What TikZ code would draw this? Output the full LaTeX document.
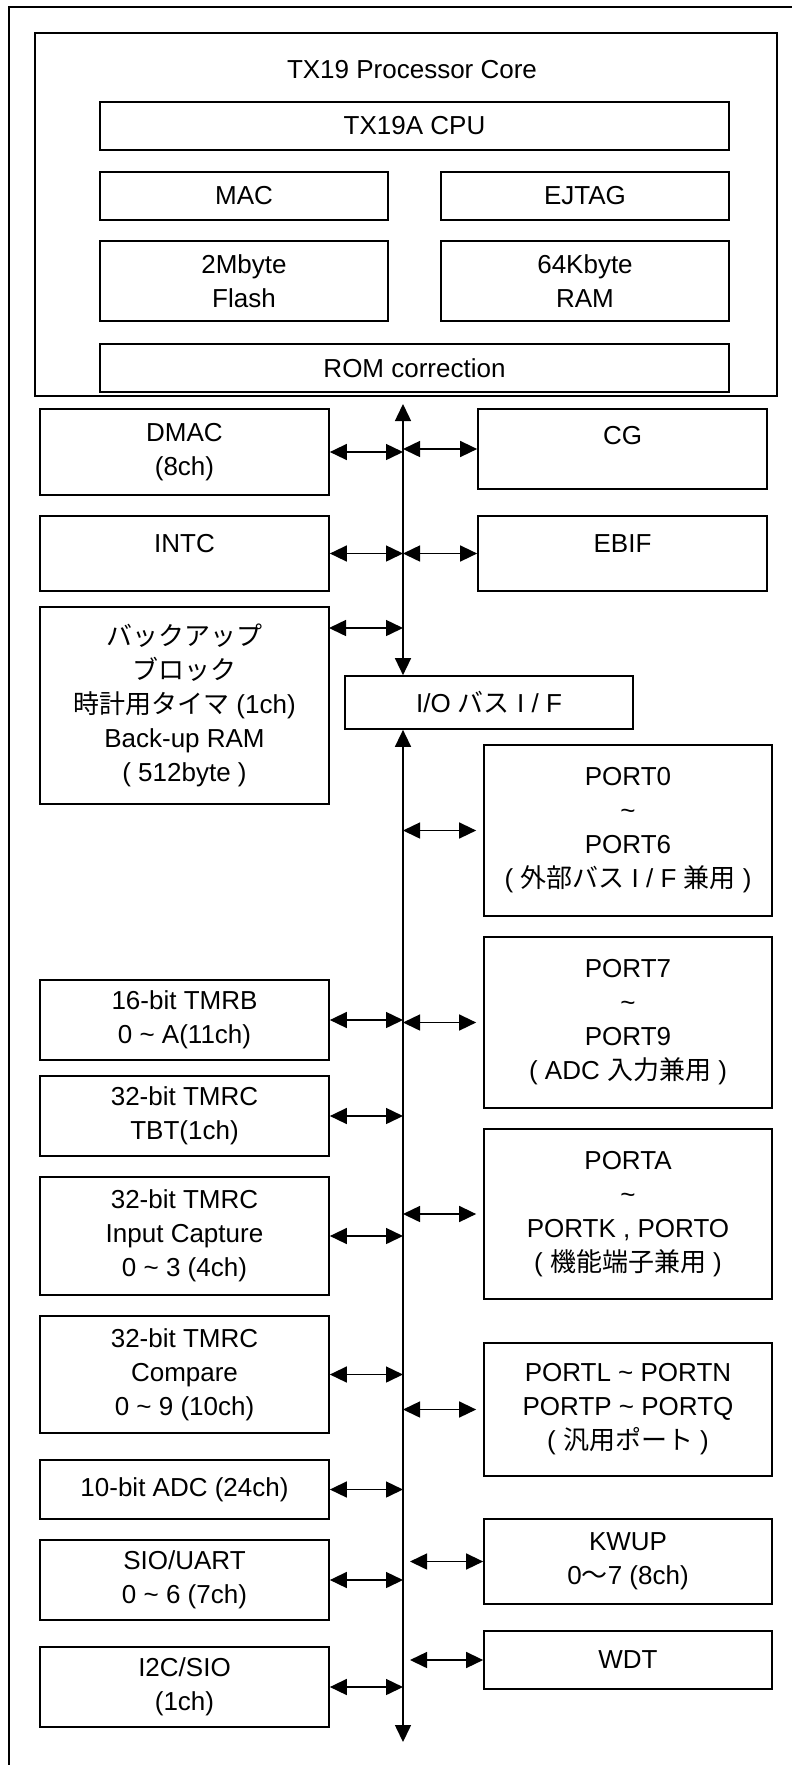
\documentclass[tikz,border=0pt]{standalone}
\usepackage{fontspec}
\setmainfont{Liberation Sans}
\newfontfamily\jp{Noto Sans CJK JP}
\usetikzlibrary{arrows.meta,calc}

\tikzset{
  blk/.style={draw, line width=1.7pt, inner sep=0pt, align=center, minimum width=289pt},
  raised/.style={text height=19pt, text depth=#1},
  link/.style={line width=1.5pt, {Triangle[length=17pt,width=16pt]}-{Triangle[length=17pt,width=16pt]}},
}

\begin{document}
\begin{tikzpicture}[x=1pt, y=-1pt, font=\fontsize{26}{34}\selectfont]
		\useasboundingbox (0,0) rectangle (792,1765);
		\draw[line width=1.7pt] (9,1765) -- (9,7) -- (792,7);
		
		% processor core
		\node[blk, minimum width=742pt, minimum height=363pt] (core) at (406,214.5) {};
		\node (title) at (412,70) {TX19 Processor Core};
		\node[blk, minimum width=629pt, minimum height=48pt] (cpu) at (414.5,126) {TX19A CPU};
		\node[blk, minimum width=288pt, minimum height=48pt] (mac) at (244,196) {MAC};
		\node[blk, minimum width=288pt, minimum height=48pt] (ejtag) at (585,196) {EJTAG};
		\node[blk, minimum width=288pt, minimum height=80pt] (flash) at (244,281) {2Mbyte\\Flash};
		\node[blk, minimum width=288pt, minimum height=80pt] (ram) at (585,281) {64Kbyte\\RAM};
		\node[blk, minimum width=629pt, minimum height=48pt] (romc) at (414.5,368) {ROM correction};
		
		% bus
		\coordinate (bus) at (403,404);
		\coordinate (busend) at (403,1742);
		\node[blk, minimum width=288pt, minimum height=53pt] (io) at (489,702.5) {I/O {\jp バス} I / F};
		\draw[link] (bus) -- (bus |- io.north);
		\draw[link] (bus |- io.south) -- (busend);
		
		% left column
		\node[blk, minimum height=86pt] (dmac) at (184.5,452) {DMAC\\(8ch)};
		\node[blk, minimum height=75pt, raised=22pt] (intc) at (184.5,553.5) {INTC};
		\node[blk, minimum height=197pt] (bkup) at (184.5,705.5) {{\jp バックアップ}\\{\jp ブロック}\\{\jp 時計用タイマ} (1ch)\\Back-up RAM\\( 512byte )};
		\node[blk, minimum height=80pt] (tmrb) at (184.5,1020) {16-bit TMRB\\0 \textasciitilde{} A(11ch)};
		\node[blk, minimum height=80pt] (tbt) at (184.5,1116) {32-bit TMRC\\TBT(1ch)};
		\node[blk, minimum height=118pt] (icap) at (184.5,1236) {32-bit TMRC\\Input Capture\\0 \textasciitilde{} 3 (4ch)};
		\node[blk, minimum height=117pt] (cmp) at (184.5,1374.5) {32-bit TMRC\\Compare\\0 \textasciitilde{} 9 (10ch)};
		\node[blk, minimum height=59pt] (adc) at (184.5,1489.5) {10-bit ADC (24ch)};
		\node[blk, minimum height=80pt] (sio) at (184.5,1580) {SIO/UART\\0 \textasciitilde{} 6 (7ch)};
		\node[blk, minimum height=80pt] (i2c) at (184.5,1687) {I2C/SIO\\(1ch)};
		
		\coordinate (bkarr) at (329,628);
		\draw[link] (dmac.east) -- (dmac.east -| bus);
		\draw[link] (intc.east) -- (intc.east -| bus);
		\draw[link] (bkarr) -- (bkarr -| bus);
		\draw[link] (tmrb.east) -- (tmrb.east -| bus);
		\draw[link] (tbt.east) -- (tbt.east -| bus);
		\draw[link] (icap.east) -- (icap.east -| bus);
		\draw[link] (cmp.east) -- (cmp.east -| bus);
		\draw[link] (adc.east) -- (adc.east -| bus);
		\draw[link] (sio.east) -- (sio.east -| bus);
		\draw[link] (i2c.east) -- (i2c.east -| bus);
		
		% right column
		\node[blk, minimum height=80pt, raised=28pt] (cg) at (622.5,449) {CG};
		\node[blk, minimum height=75pt, raised=22pt] (ebif) at (622.5,553.5) {EBIF};
		\node[blk, minimum width=288pt, minimum height=171pt] (portz) at (628,830.5) {PORT0\\\textasciitilde\\PORT6\\( {\jp 外部バス} I / F {\jp 兼用} )};
		\node[blk, minimum width=288pt, minimum height=171pt] (portsv) at (628,1022.5) {PORT7\\\textasciitilde\\PORT9\\( ADC {\jp 入力兼用} )};
		\node[blk, minimum width=288pt, minimum height=170pt] (porta) at (628,1214) {PORTA\\\textasciitilde\\PORTK , PORTO\\( {\jp 機能端子兼用} )};
		\node[blk, minimum width=288pt, minimum height=133pt] (portl) at (628,1409.5) {PORTL \textasciitilde{} PORTN\\PORTP \textasciitilde{} PORTQ\\( {\jp 汎用ポート} )};
		\node[blk, minimum width=288pt, minimum height=85pt] (kwup) at (628,1561.5) {KWUP\\0{\jp 〜}7 (8ch)};
		\node[blk, minimum width=288pt, minimum height=58pt] (wdt) at (628,1660) {WDT};
		
		\draw[link] (cg.west -| bus) -- (cg.west);
		\draw[link] (ebif.west -| bus) -- (ebif.west);
		\draw[link, shorten >=7pt] (portz.west -| bus) -- (portz.west);
		\draw[link, shorten >=7pt] (portsv.west -| bus) -- (portsv.west);
		\draw[link, shorten >=7pt] (porta.west -| bus) -- (porta.west);
		\draw[link, shorten >=7pt] (portl.west -| bus) -- (portl.west);
		\draw[link, shorten <=7pt] (kwup.west -| bus) -- (kwup.west);
		\draw[link, shorten <=7pt] (wdt.west -| bus) -- (wdt.west);
\end{tikzpicture}
\end{document}
